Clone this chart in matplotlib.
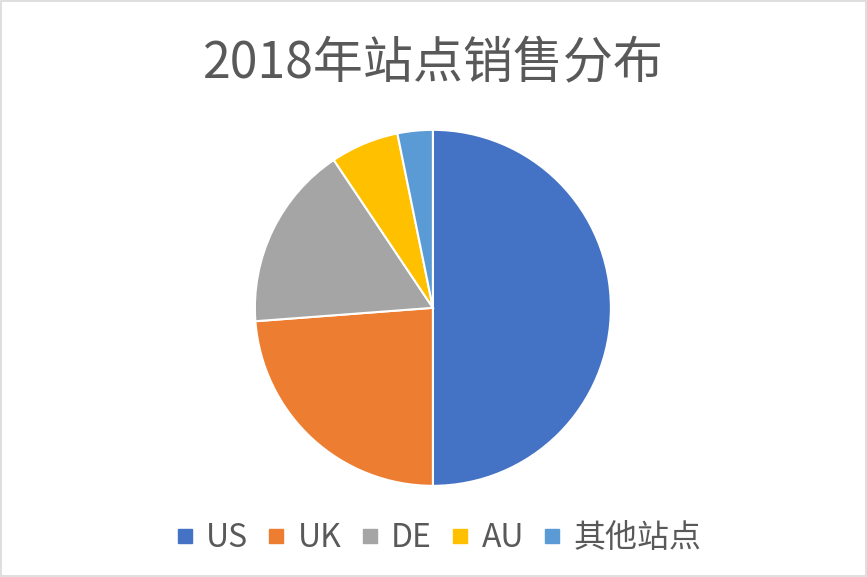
import matplotlib
matplotlib.use('Agg')
import matplotlib.pyplot as plt
from matplotlib.lines import Line2D

plt.rcParams['font.family'] = ['Noto Sans CJK SC', 'DejaVu Sans']

# 数据
sites = ['US', 'UK', 'DE', 'AU', '其他站点']
sales = [50.0, 23.8, 16.8, 6.2, 3.2]
colors = ['#4472C4', '#ED7D31', '#A5A5A5', '#FFC000', '#5B9BD5']
title = '2018年站点销售分布'

fig = plt.figure(figsize=(8.67, 5.77), dpi=100)
fig.patch.set_facecolor('white')

# 外边框
border = plt.Rectangle((0.001, 0.001), 0.998, 0.998, transform=fig.transFigure,
                       fill=False, edgecolor='#D9D9D9', linewidth=1.2)
fig.add_artist(border)

ax = fig.add_axes([0.294, 0.158, 0.4106, 0.617])
ax.pie(sales, colors=colors, startangle=90, counterclock=False,
       wedgeprops=dict(edgecolor='white', linewidth=1.5))
ax.set_xlim(-1, 1)
ax.set_ylim(-1, 1)
ax.set_aspect('equal')
ax.axis('off')

fig.text(0.5, 0.888, title, ha='center', va='center', fontsize=36, color='#595959')

handles = [Line2D([0], [0], marker='s', linestyle='none', markersize=9.5,
                  markerfacecolor=c, markeredgecolor=c) for c in colors]
fig.legend(handles, sites, loc='center', bbox_to_anchor=(0.507, 0.067), ncol=5,
           frameon=False, fontsize=23, labelcolor='#595959',
           handlelength=0.45, handletextpad=0.45, columnspacing=0.65)

fig.savefig('out.png', dpi=100)
